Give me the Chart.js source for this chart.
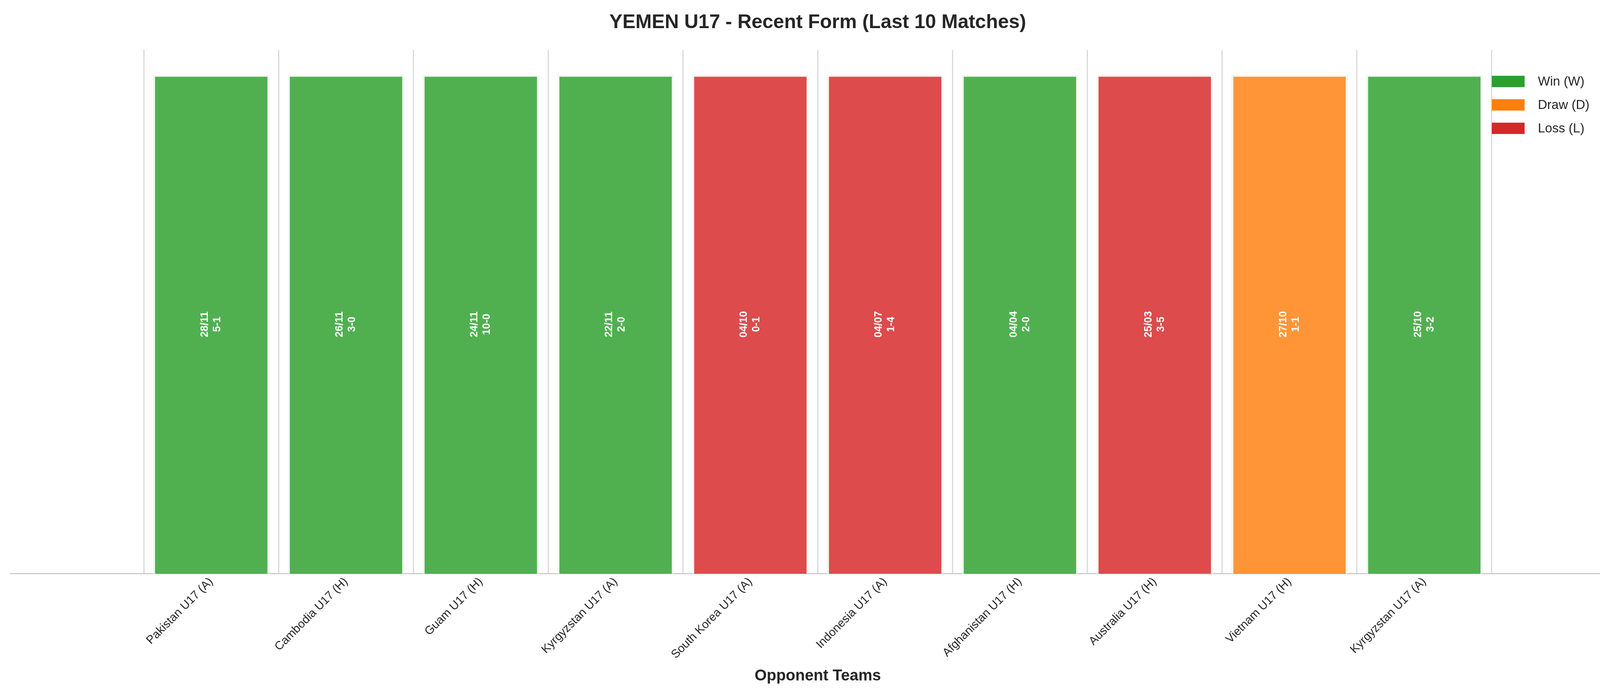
<!DOCTYPE html>
<html>
<head>
<meta charset="utf-8">
<script src="https://cdn.jsdelivr.net/npm/chart.js@4"></script>
<style>
  body { margin: 0; background: #fff; }
</style>
</head>
<body>
<canvas id="chart" width="4170" height="1769"></canvas>
<script>
const opponents = ["Pakistan U17 (A)", "Cambodia U17 (H)", "Guam U17 (H)", "Kyrgyzstan U17 (A)",
  "South Korea U17 (A)", "Indonesia U17 (A)", "Afghanistan U17 (H)", "Australia U17 (H)",
  "Vietnam U17 (H)", "Kyrgyzstan U17 (A)"];
const dates = ["28/11", "26/11", "24/11", "22/11", "04/10", "04/07", "04/04", "25/03", "27/10", "25/10"];
const scores = ["5-1", "3-0", "10-0", "2-0", "0-1", "1-4", "2-0", "3-5", "1-1", "3-2"];
const results = ["W", "W", "W", "W", "L", "L", "W", "L", "D", "W"];

const colors = { W: "#2ca02c", D: "#ff7f0e", L: "#d62728" };
const fills = { W: "rgba(44,160,44,0.83)", D: "rgba(255,127,14,0.83)", L: "rgba(214,39,40,0.83)" };
const names = { W: "Win (W)", D: "Draw (D)", L: "Loss (L)" };

const datasets = ["W", "D", "L"].map(r => ({
  label: names[r],
  data: results.map((res, i) => res === r ? { x: i, y: 1 } : null).filter(p => p),
  backgroundColor: fills[r],
  borderColor: "rgba(240,245,240,0.9)",
  borderWidth: 5,
  barThickness: 297,
  grouped: false
}));

// bar labels + legend
const overlay = {
  id: "overlay",
  afterDatasetsDraw(chart) {
    const { ctx, scales } = chart;
    ctx.save();
    ctx.fillStyle = "#fff";
    ctx.font = "bold 27px 'Liberation Sans', Arial, sans-serif";
    ctx.textAlign = "center";
    ctx.textBaseline = "middle";
    results.forEach((r, i) => {
      const x = scales.x.getPixelForValue(i);
      const y = scales.y.getPixelForValue(0.5);
      ctx.save();
      ctx.translate(x, y);
      ctx.rotate(-Math.PI / 2);
      ctx.fillText(dates[i], 0, -16);
      ctx.fillText(scores[i], 0, 16);
      ctx.restore();
    });
    // legend
    ctx.font = "33px 'Liberation Sans', Arial, sans-serif";
    ctx.textAlign = "left";
    ["W", "D", "L"].forEach((r, k) => {
      const y = 208 + k * 60;
      ctx.fillStyle = colors[r];
      ctx.fillRect(3819, y - 14, 84, 29);
      ctx.fillStyle = "#262626";
      ctx.fillText(names[r], 3937, y + 2);
    });
    ctx.restore();
  }
};

new Chart(document.getElementById("chart"), {
  type: "bar",
  data: { datasets },
  plugins: [overlay],
  options: {
    responsive: false,
    animation: false,
    devicePixelRatio: 1,
    layout: { padding: { left: 27, right: 10, top: 10, bottom: 10 } },
    plugins: {
      legend: { display: false },
      tooltip: { enabled: false },
      title: {
        display: true,
        text: "YEMEN U17 - Recent Form (Last 10 Matches)",
        color: "#262626",
        font: { family: "'Liberation Sans', Arial, sans-serif", size: 50, weight: "bold" },
        padding: { top: 18, bottom: 40 }
      }
    },
    scales: {
      x: {
        type: "linear",
        min: -0.89,
        max: 9.89,
        afterBuildTicks: s => { s.ticks = opponents.map((_, i) => ({ value: i })); },
        ticks: {
          autoSkip: false,
          minRotation: 45,
          maxRotation: 45,
          color: "#262626",
          font: { family: "'Liberation Sans', Arial, sans-serif", size: 30 },
          callback: v => opponents[v]
        },
        grid: { color: "#d9d9d9", lineWidth: 3, drawTicks: false },
        border: { color: "#cccccc", width: 3 },
        title: {
          display: true,
          text: "Opponent Teams",
          color: "#262626",
          font: { family: "'Liberation Sans', Arial, sans-serif", size: 40, weight: "bold" },
          padding: { top: 10 }
        }
      },
      y: {
        min: 0,
        max: 1.05,
        display: false
      }
    }
  }
});
</script>
</body>
</html>
